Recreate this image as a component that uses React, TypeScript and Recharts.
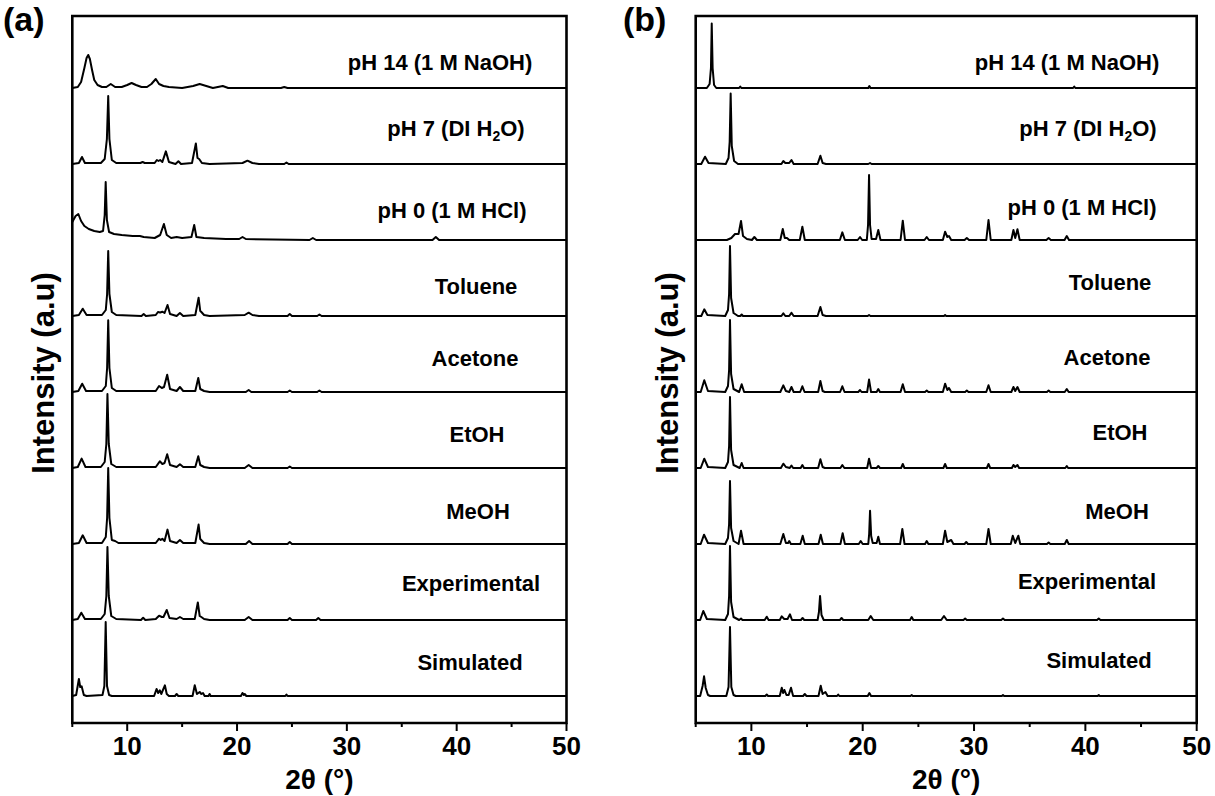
import { LineChart, Line, XAxis, YAxis, ReferenceArea } from 'recharts'

type Pt = [number, number]

// sample names, bottom trace first
const SAMPLES = [
  'Simulated',
  'Experimental',
  'MeOH',
  'EtOH',
  'Acetone',
  'Toluene',
  'pH 0 (1 M HCl)',
  'pH 7 (DI H2O)',
  'pH 14 (1 M NaOH)',
]

const X_TICKS = [5, 10, 15, 20, 25, 30, 35, 40, 45, 50]

// ---- panel (a) patterns: [2θ, intensity a.u.] ----
const A_SIM: Pt[] = [[5,0],[5.35,1],[5.6,17],[5.72,9],[5.85,9.7],[6.05,1],[6.3,0],[7.75,1],[7.92,10],[8.04,74],[8.16,10],[8.35,1],[8.6,0],[12.45,0],[12.67,7],[12.82,3],[12.97,5.7],[13.1,2],[13.43,10.7],[13.6,2],[13.8,0],[14.35,0],[14.5,2],[14.65,0],[15.95,0],[16.15,10.7],[16.35,2],[16.6,4],[16.75,2],[16.9,3],[17.05,0],[17.4,0],[17.5,2],[17.6,0],[20.35,0],[20.5,3],[20.62,1],[20.7,2],[20.85,0],[24.4,0],[24.5,1.5],[24.6,0],[50,0]]
const A_EXP: Pt[] = [[5,0],[5.5,1],[5.82,7.3],[6.15,1],[7.6,1],[7.95,6],[8.1,24],[8.2,73],[8.32,24],[8.55,4],[9,1],[11.25,0],[11.45,2.3],[11.65,0],[12.6,1],[12.9,4.3],[13.15,3],[13.3,3],[13.6,10],[13.85,2],[14.5,1],[14.8,3],[15.1,1],[16.15,1],[16.43,17.6],[16.6,4],[16.75,3],[17,1],[17.5,0],[20.7,0],[21.06,3],[21.4,0],[24.6,0],[24.8,2],[25,0],[27.2,0],[27.4,2],[27.6,0],[50,0]]
const A_MEOH: Pt[] = [[5,0],[5.6,1],[5.95,8.7],[6.3,1],[7.7,1],[8.05,7],[8.17,26],[8.27,76],[8.38,26],[8.6,4],[8.9,3],[9.2,1],[12.6,1],[12.9,5.3],[13.05,4],[13.2,5.3],[13.4,3],[13.67,14.4],[13.9,3],[14.5,1],[14.8,4],[15.1,1],[16.2,1],[16.5,19.4],[16.65,5],[17,1],[17.5,0],[20.8,0],[21.1,3],[21.4,0],[24.6,0],[24.8,2],[25,0],[50,0]]
const A_ETOH: Pt[] = [[5,0],[5.5,1],[5.85,9.4],[6.2,1],[7.6,1],[7.95,6],[8.1,24],[8.2,74],[8.32,24],[8.55,4],[9,1],[12.6,1],[12.97,6.7],[13.2,4],[13.4,5],[13.64,13.7],[13.9,3],[14.5,1],[14.8,3.7],[15.1,1],[16.2,1],[16.47,11.7],[16.65,3],[17,1],[17.5,0],[20.7,0],[21.06,3],[21.4,0],[24.6,0],[24.8,1.5],[25,0],[50,0]]
const A_ACE: Pt[] = [[5,0],[5.55,1],[5.9,8.3],[6.25,1],[7.7,1],[8.05,6],[8.17,24],[8.27,71.7],[8.38,24],[8.6,4],[9,1],[12.6,1],[12.9,6],[13.15,4],[13.35,5],[13.64,17.3],[13.9,3],[14.5,1],[14.8,5],[15.1,1],[16.2,1],[16.47,14],[16.65,3],[17,1],[17.5,0],[20.8,0],[21.06,2],[21.3,0],[24.6,0],[24.8,1.5],[25,0],[27.3,0],[27.5,1.5],[27.7,0],[50,0]]
const A_TOL: Pt[] = [[5,0],[5.6,1],[5.95,7.3],[6.3,1],[7.7,1],[8.05,6],[8.17,22],[8.27,65],[8.38,22],[8.6,4],[9,1],[11.3,0],[11.5,2],[11.7,0],[12.6,1],[12.8,4],[13.0,3.5],[13.2,4.3],[13.4,3],[13.67,11],[13.9,2],[14.5,0],[14.8,3],[15.1,0],[16.2,1],[16.5,18.3],[16.65,5],[16.75,4],[17,1],[17.5,0],[20.7,1],[21.06,3.3],[21.4,1],[22,0],[24.6,0],[24.8,2],[25,0],[27.3,0],[27.5,1.5],[27.7,0],[50,0]]
const A_HCL: Pt[] = [[5,18],[5.3,24],[5.55,26],[5.8,19],[6.1,14],[6.5,11],[7.0,9],[7.5,8],[7.8,9],[7.95,25],[8.04,58],[8.15,20],[8.35,8],[8.8,6],[9.5,5],[10.5,4],[11.15,4],[11.5,3],[12.5,2],[13.0,5],[13.34,16],[13.6,5],[14.0,2],[14.5,3],[15.0,2],[15.85,3],[16.1,15],[16.3,3],[17,2],[19,1],[20.2,1],[20.5,3],[20.8,1],[26.6,0],[26.9,2],[27.2,0],[37.8,0],[38.1,3],[38.4,0],[50,0]]
const A_PH7: Pt[] = [[5,0],[5.6,1],[5.88,7],[6.15,1],[7.6,1],[7.95,5],[8.15,25],[8.27,68],[8.38,25],[8.6,4],[9.0,1],[11.2,1],[11.4,2],[11.6,1],[12.5,1],[12.7,4],[12.85,3],[13.0,4],[13.2,2],[13.52,12.6],[13.8,2],[14.4,0],[14.66,2.7],[14.9,0],[15.9,1],[16.25,20.6],[16.4,6],[16.55,5],[16.8,1],[17.5,0],[20.5,1],[20.95,3.3],[21.4,1],[22,0],[24.3,0],[24.5,1.5],[24.7,0],[50,0]]
const A_NAOH: Pt[] = [[5,0],[5.5,1],[5.8,6],[6.1,20],[6.3,30],[6.45,33],[6.6,29],[6.8,18],[7.0,8],[7.3,3],[7.7,1],[8.1,1],[8.5,4],[8.9,1],[9.5,1],[10.0,3],[10.4,5],[10.8,3],[11.3,1],[11.8,1],[12.2,4],[12.6,9],[12.9,4],[13.3,2],[13.8,1],[15.0,0],[16.0,2],[16.6,4],[17.2,2],[17.8,0],[18.7,2],[19.2,0],[24,0],[24.3,1],[24.6,0],[50,0]]

// ---- panel (b) patterns ----
const B_SIM: Pt[] = [[5,0],[5.4,0],[5.62,10],[5.75,19.7],[5.9,8],[6.1,1],[6.3,0],[7.75,0],[7.95,9],[8.08,69],[8.2,9],[8.4,1],[8.6,0],[11.25,0],[11.38,1.5],[11.5,0],[12.55,0],[12.73,8.3],[12.85,3],[12.97,6],[13.15,1],[13.35,1],[13.56,8.3],[13.75,0],[14.65,0],[14.8,2],[14.95,0],[16.03,0],[16.23,10.3],[16.4,2],[16.65,4],[16.85,0],[17.7,0],[17.8,1.5],[17.9,0],[20.45,0],[20.6,3],[20.75,0],[24.3,0],[24.4,1],[24.5,0],[32.5,0],[32.6,1],[32.7,0],[41.1,0],[41.2,1],[41.3,0],[50,0]]
const B_EXP: Pt[] = [[5,0],[5.4,0],[5.68,9],[6.0,1],[7.65,0],[7.9,6],[8.0,24],[8.08,74],[8.18,18],[8.4,3],[8.9,0],[9.07,1.5],[9.2,0],[11.2,0],[11.38,3.3],[11.55,0],[12.55,0],[12.73,3.7],[12.95,1],[13.25,1],[13.47,5.7],[13.65,0],[14.45,0],[14.6,2],[14.75,0],[15.95,0],[16.07,8],[16.17,24],[16.3,5],[16.5,0],[17.95,0],[18.1,2],[18.25,0],[20.5,0],[20.72,4],[20.95,0],[24.25,0],[24.4,3],[24.55,0],[27.05,0],[27.3,4],[27.55,0],[29.05,0],[29.2,1.5],[29.35,0],[32.45,0],[32.6,1.5],[32.75,0],[41.05,0],[41.2,1.5],[41.35,0],[50,0]]
const B_MEOH: Pt[] = [[5,0],[5.45,0],[5.75,9.3],[6.1,1],[7.65,0],[7.9,6],[8.0,20],[8.08,63],[8.18,16],[8.4,3],[8.85,0],[9.07,13.3],[9.3,0],[12.6,0],[12.87,10],[13.1,1],[13.3,1],[13.4,3],[13.55,0],[14.4,0],[14.61,8.3],[14.8,0],[16.03,0],[16.23,9.3],[16.43,0],[18.0,0],[18.2,10.7],[18.4,0],[19.65,0],[19.82,3],[20.0,0],[20.5,0],[20.58,10],[20.66,33.3],[20.76,8],[20.9,1],[21.25,1],[21.4,7.3],[21.55,0],[23.36,0],[23.56,15],[23.76,0],[25.6,0],[25.75,3],[25.9,0],[27.2,0],[27.4,13.3],[27.6,2],[27.95,4],[28.15,0],[29.15,0],[29.3,2],[29.45,0],[31.1,0],[31.3,15],[31.5,0],[33.3,0],[33.48,8.3],[33.7,1],[33.98,8.3],[34.15,0],[36.55,0],[36.7,1.5],[36.85,0],[38.15,0],[38.33,4],[38.5,0],[50,0]]
const B_ETOH: Pt[] = [[5,0],[5.45,0],[5.77,9.3],[6.1,1],[7.65,0],[7.9,6],[8.0,22],[8.08,71],[8.18,18],[8.4,3],[8.95,0],[9.13,5],[9.3,0],[12.65,0],[12.87,4.3],[13.1,1],[13.45,0],[13.6,2.5],[13.75,0],[14.43,0],[14.58,3],[14.73,0],[16.0,0],[16.2,8.7],[16.4,1],[16.6,0],[18.0,0],[18.17,3],[18.35,0],[20.4,0],[20.57,9.3],[20.75,0],[21.25,0],[21.4,2],[21.55,0],[23.45,0],[23.6,4],[23.75,0],[27.25,0],[27.4,4],[27.55,0],[31.15,0],[31.3,4],[31.45,0],[33.4,0],[33.54,3],[33.7,1],[33.9,3],[34.05,0],[38.2,0],[38.33,2],[38.45,0],[50,0]]
const B_ACE: Pt[] = [[5,0],[5.45,0],[5.77,11.7],[6.1,1],[7.65,0],[7.9,6],[8.0,22],[8.08,72],[8.18,18],[8.4,3],[8.9,0],[9.13,7.7],[9.35,0],[12.6,0],[12.87,6.7],[13.1,1],[13.4,0],[13.6,5],[13.8,0],[14.38,0],[14.58,5.7],[14.78,0],[16.0,0],[16.2,11],[16.4,1],[16.6,0],[17.97,0],[18.17,5.7],[18.37,0],[19.6,0],[19.76,2],[19.9,0],[20.4,0],[20.57,12.4],[20.75,0],[21.25,0],[21.4,3],[21.55,0],[23.4,0],[23.6,7.7],[23.8,0],[25.6,0],[25.75,1.5],[25.9,0],[27.2,0],[27.4,8.3],[27.6,2],[27.75,4],[27.95,0],[29.2,0],[29.35,1.5],[29.5,0],[31.1,0],[31.3,6.7],[31.5,0],[33.35,0],[33.54,5],[33.7,1],[33.9,5],[34.1,0],[36.55,0],[36.7,1.5],[36.85,0],[38.15,0],[38.33,3],[38.5,0],[50,0]]
const B_TOL: Pt[] = [[5,0],[5.5,0],[5.77,6.7],[6.05,1],[7.65,0],[7.9,6],[8.0,22],[8.08,70],[8.18,18],[8.4,3],[8.8,0],[9.0,0],[9.13,1.5],[9.25,0],[12.7,0],[12.87,2.7],[13.05,0],[13.4,0],[13.6,3.3],[13.8,0],[15.95,0],[16.2,9],[16.4,1],[16.7,0],[20.45,0],[20.57,1],[20.7,0],[27.3,0],[27.4,1],[27.5,0],[50,0]]
const B_HCL: Pt[] = [[5,0],[7.8,0],[8.2,2],[8.53,6],[8.85,6],[9.07,19],[9.25,4],[9.6,1],[10.05,0],[10.27,3],[10.5,0],[12.6,0],[12.82,11],[13.0,2],[13.2,2],[13.4,0],[14.35,0],[14.58,13.3],[14.8,0],[17.95,0],[18.17,7.6],[18.4,0],[19.55,0],[19.76,3],[19.95,0],[20.37,0],[20.48,15],[20.57,65],[20.66,15],[20.8,1],[21.2,1],[21.4,10],[21.6,0],[23.4,0],[23.6,19.3],[23.8,0],[25.55,0],[25.75,3],[25.95,0],[27.2,0],[27.4,8.3],[27.6,3],[27.75,4],[27.95,0],[29.15,0],[29.35,2],[29.55,0],[31.1,0],[31.3,20],[31.5,0],[33.35,0],[33.54,10],[33.7,2],[33.9,10.7],[34.1,0],[36.5,0],[36.7,2],[36.9,0],[38.13,0],[38.33,4],[38.53,0],[50,0]]
const B_PH7: Pt[] = [[5,0],[5.5,0],[5.84,7.3],[6.15,1],[7.7,0],[7.95,6],[8.05,22],[8.14,70.6],[8.24,18],[8.45,3],[8.8,0],[12.7,0],[12.87,3],[13.05,1],[13.4,1],[13.6,4],[13.8,0],[15.95,0],[16.2,8.3],[16.4,1],[16.7,0],[20.5,0],[20.66,1],[20.8,0],[50,0]]
const B_NAOH: Pt[] = [[5,0],[6.0,0],[6.25,4],[6.37,20],[6.44,64.6],[6.52,20],[6.65,3],[6.85,0],[8.9,0],[9.0,1.5],[9.1,0],[20.5,0],[20.6,2],[20.7,0],[38.9,0],[39.0,1.5],[39.1,0],[50,0]]

const PATTERNS_A = [A_SIM, A_EXP, A_MEOH, A_ETOH, A_ACE, A_TOL, A_HCL, A_PH7, A_NAOH]
const PATTERNS_B = [B_SIM, B_EXP, B_MEOH, B_ETOH, B_ACE, B_TOL, B_HCL, B_PH7, B_NAOH]

// layout
const STEP = 76 // vertical offset between stacked patterns
const Y_DOMAIN: [number, number] = [-27, 680]
const FONT = 'Arial, "Liberation Sans", Helvetica, sans-serif'
const CHART_W = 600
const CHART_H = 796

// label centres (px) inside each panel, bottom trace first
const LABEL_POS_A: Pt[] = [[470, 663], [471, 584], [478, 512], [477, 435], [475, 359], [476, 287], [452, 211], [456, 130], [440, 63]]
const LABEL_POS_B: Pt[] = [[479, 661], [467, 582], [497, 512], [500, 433], [487, 358], [490, 283], [462, 208], [468, 130], [447, 63]]

function XTick({ x, y, payload }: any) {
  const major = payload.value % 10 === 0
  return (
    <g>
      <line x1={x} x2={x} y1={y} y2={y + (major ? 8 : 4)} stroke="#000" strokeWidth={2} />
      {major && (
        <text x={x} y={y + 32} textAnchor="middle" fontSize={26} fontWeight={700} fontFamily={FONT} fill="#000">
          {payload.value}
        </text>
      )}
    </g>
  )
}

function SampleName({ name }: { name: string }) {
  const m = name.match(/^(.*H)2(O.*)$/)
  if (!m) return <>{name}</>
  return (
    <>
      {m[1]}
      <sub style={{ fontSize: 14, verticalAlign: '-5px' }}>2</sub>
      {m[2]}
    </>
  )
}

type PanelProps = {
  tag: string
  left: number
  plotLeft: number
  plotRight: number
  patterns: Pt[][]
  labels: Pt[]
}

function Panel({ tag, left, plotLeft, plotRight, patterns, labels }: PanelProps) {
  const plotTop = 16
  const plotBottom = 723
  const series = patterns.map((pts, i) => pts.map(([x, y]) => ({ x, y: y + i * STEP })))
  const midX = (plotLeft + plotRight) / 2

  return (
    <div style={{ position: 'absolute', left, top: 0, width: CHART_W, height: CHART_H }}>
      <LineChart
        width={CHART_W}
        height={CHART_H}
        margin={{ top: plotTop, right: CHART_W - plotRight, bottom: CHART_H - plotBottom - 60, left: plotLeft }}
      >
        <XAxis
          type="number"
          dataKey="x"
          domain={[5, 50]}
          ticks={X_TICKS}
          interval={0}
          allowDataOverflow
          axisLine={false}
          tickLine={false}
          tickSize={0}
          tickMargin={0}
          height={60}
          tick={<XTick />}
        />
        <YAxis type="number" domain={Y_DOMAIN} allowDataOverflow hide />
        {series.map((d, i) => (
          <Line
            key={SAMPLES[i]}
            data={d}
            dataKey="y"
            type="linear"
            stroke="#000"
            strokeWidth={2}
            strokeLinejoin="round"
            dot={false}
            activeDot={false}
            isAnimationActive={false}
          />
        ))}
        <ReferenceArea x1={5} x2={50} y1={Y_DOMAIN[0]} y2={Y_DOMAIN[1]} fill="none" stroke="#000" strokeWidth={2.6} />
      </LineChart>

      {SAMPLES.map((name, i) => (
        <div
          key={name}
          style={{
            position: 'absolute',
            left: labels[i][0],
            top: labels[i][1],
            transform: 'translate(-50%, -50%)',
            fontSize: 22,
            fontWeight: 700,
            whiteSpace: 'nowrap',
            lineHeight: 1,
          }}
        >
          <SampleName name={name} />
        </div>
      ))}

      <div style={{ position: 'absolute', left: 3, top: 0, fontSize: 34, fontWeight: 700, lineHeight: 1.15 }}>{tag}</div>

      <div
        style={{
          position: 'absolute',
          left: plotLeft - 29,
          top: (plotTop + plotBottom) / 2 + 3,
          transform: 'translate(-50%, -50%) rotate(-90deg)',
          fontSize: 31,
          fontWeight: 700,
          whiteSpace: 'nowrap',
          lineHeight: 1,
        }}
      >
        Intensity (a.u)
      </div>

      <div
        style={{
          position: 'absolute',
          left: midX,
          top: 780,
          transform: 'translate(-50%, -50%)',
          fontSize: 28,
          fontWeight: 700,
          whiteSpace: 'nowrap',
          lineHeight: 1,
        }}
      >
        2θ (°)
      </div>
    </div>
  )
}

export default function App() {
  return (
    <div
      style={{
        position: 'absolute',
        left: 0,
        top: 0,
        width: 1215,
        height: 796,
        background: '#fff',
        fontFamily: FONT,
        color: '#000',
        overflow: 'hidden',
      }}
    >
      <Panel tag="(a)" left={0} plotLeft={72.3} plotRight={566.5} patterns={PATTERNS_A} labels={LABEL_POS_A} />
      <Panel tag="(b)" left={620} plotLeft={75.7} plotRight={576.7} patterns={PATTERNS_B} labels={LABEL_POS_B} />
    </div>
  )
}
